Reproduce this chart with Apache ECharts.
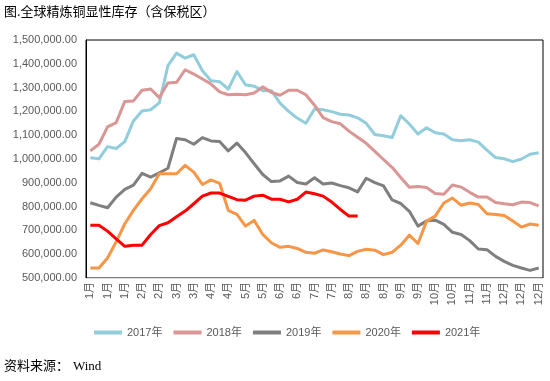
<!DOCTYPE html>
<html>
<head>
<meta charset="utf-8">
<script src="https://cdn.jsdelivr.net/npm/echarts@6/dist/echarts.min.js"></script>
<style>
html,body{margin:0;padding:0;background:#fff;}
#c{width:550px;height:381px;}
</style>
</head>
<body>
<div id="c"></div>
<script>
var categories = [
  '1月','1月','1月','1月','1月',
  '2月','2月','2月','2月',
  '3月','3月','3月','3月',
  '4月','4月','4月','4月',
  '5月','5月','5月','5月','5月',
  '6月','6月','6月','6月',
  '7月','7月','7月','7月',
  '8月','8月','8月','8月','8月',
  '9月','9月','9月','9月',
  '10月','10月','10月','10月','10月',
  '11月','11月','11月','11月',
  '12月','12月','12月','12月','12月'
];
var seriesNames = ['2017年','2018年','2019年','2020年','2021年'];
var yTicks = {min: 500000, max: 1500000, step: 100000};

var data2017 = [1005000,1001000,1052000,1044000,1073000,1160000,1202000,1207000,1236000,1392000,
  1445000,1424000,1438000,1371000,1329000,1325000,1294000,1367000,1312000,1306000,
  1287000,1287000,1235000,1200000,1172000,1150000,1210000,1207000,1199000,1188000,
  1185000,1173000,1150000,1103000,1098000,1090000,1182000,1147000,1105000,1131000,
  1110000,1105000,1081000,1077000,1081000,1071000,1037000,1006000,1001000,989000,
  1000000,1020000,1026000];
var data2018 = [1034000,1062000,1135000,1153000,1242000,1244000,1289000,1294000,1258000,1319000,
  1322000,1375000,1357000,1336000,1315000,1282000,1270000,1272000,1270000,1277000,
  1303000,1280000,1268000,1289000,1289000,1270000,1226000,1174000,1157000,1148000,
  1117000,1091000,1066000,1032000,998000,965000,922000,881000,884000,880000,
  855000,852000,891000,882000,860000,840000,840000,817000,812000,808000,
  819000,817000,803000];
var data2019 = [816000,805000,795000,840000,872000,890000,940000,924000,942000,961000,
  1086000,1081000,1062000,1090000,1076000,1074000,1034000,1067000,1027000,980000,
  935000,905000,908000,928000,901000,895000,921000,895000,899000,888000,
  879000,862000,919000,901000,887000,828000,813000,780000,718000,740000,
  743000,725000,692000,683000,657000,622000,619000,591000,570000,553000,
  542000,532000,542000];
var data2020 = [542000,542000,584000,652000,728000,784000,833000,875000,938000,938000,
  938000,973000,945000,893000,912000,898000,784000,767000,718000,742000,
  683000,648000,629000,633000,624000,608000,604000,618000,610000,601000,
  594000,612000,621000,617000,598000,608000,638000,680000,645000,739000,
  760000,815000,836000,806000,815000,809000,770000,767000,763000,739000,
  714000,727000,722000];
var data2021 = [722000,722000,697000,664000,633000,638000,638000,683000,720000,732000,
  757000,781000,812000,844000,857000,857000,843000,829000,827000,844000,
  848000,831000,831000,820000,831000,861000,854000,844000,819000,788000,
  760000,760000];

var colors = ['#92CDDC','#D99694','#7F7F7F','#F79646','#FF0000'];
var allData = [data2017,data2018,data2019,data2020,data2021];

function fmt(v){
  var s = Math.round(v).toString();
  var out = '';
  while (s.length > 3) { out = ',' + s.slice(-3) + out; s = s.slice(0, -3); }
  return s + out + '.00';
}

var chart = echarts.init(document.getElementById('c'), null, {renderer:'canvas'});
var FONT = '"Liberation Sans", Arial, "Noto Sans CJK SC", sans-serif';
var option = {
  animation: false,
  backgroundColor: '#fff',
  textStyle: {fontFamily: FONT},
  grid: {left: 86, right: 7, top: 40, bottom: 103, show: true, borderColor: '#000', borderWidth: 1, backgroundColor: 'transparent'},
  legend: {
    left: 89, top: 322, icon: 'rect', itemWidth: 28, itemHeight: 4, itemGap: 11,
    textStyle: {color: '#595959', fontSize: 11, fontFamily: FONT},
    data: seriesNames
  },
  xAxis: {
    type: 'category', data: categories, boundaryGap: true,
    axisLine: {show: true, lineStyle: {color: '#D9D9D9', width: 1}},
    axisTick: {show: false},
    axisLabel: {interval: 1, rotate: 90, color: '#595959', fontSize: 11, margin: 4, fontFamily: FONT},
    splitLine: {show: false}
  },
  yAxis: {
    type: 'value', min: yTicks.min, max: yTicks.max, interval: yTicks.step,
    axisLine: {show: true, lineStyle: {color: '#000', width: 1}},
    axisTick: {show: false},
    axisLabel: {color: '#595959', fontSize: 11, margin: 9, formatter: fmt, fontFamily: FONT},
    splitLine: {show: false}
  },
  series: seriesNames.map(function(n, i){
    return {
      name: n, type: 'line', data: allData[i], showSymbol: false, symbol: 'none',
      itemStyle: {color: colors[i]},
      lineStyle: {color: colors[i], width: 3, join: 'round'},
      z: 2 + i
    };
  }),
  graphic: [
    {type: 'text', left: 4, top: 5, style: {text: '图.全球精炼铜显性库存（含保税区）', fontSize: 13, fill: '#000', fontFamily: '"Noto Sans CJK SC", sans-serif'}},
    {type: 'text', left: 4, top: 359, style: {text: '资料来源：', fontSize: 13, fill: '#000', fontFamily: '"Noto Sans CJK SC", sans-serif'}},
    {type: 'text', left: 73, top: 360, style: {text: 'Wind', fontSize: 13, fill: '#000', fontFamily: '"Liberation Serif", serif'}}
  ]
};
chart.setOption(option);
</script>
</body>
</html>
